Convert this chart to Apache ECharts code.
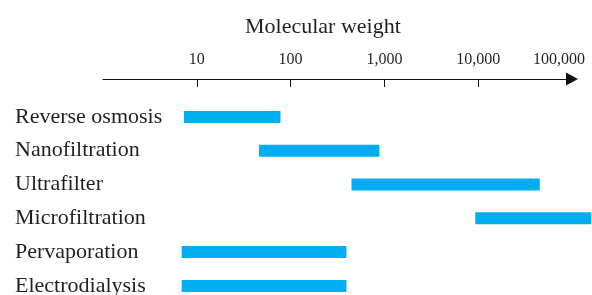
<!DOCTYPE html>
<html>
<head>
<meta charset="utf-8">
<script src="https://cdn.jsdelivr.net/npm/echarts@6/dist/echarts.min.js"></script>
<style>
  html, body { margin: 0; padding: 0; background: #fff; }
  #main { width: 592px; height: 295px; }
</style>
</head>
<body>
<div id="main"></div>
<script>
var myChart = echarts.init(document.getElementById('main'));

// 数据
var categories = ['Reverse osmosis', 'Nanofiltration', 'Ultrafilter', 'Microfiltration', 'Pervaporation', 'Electrodialysis'];
var lowValues = [7.3, 46, 446, 9300, 6.9, 6.9];
var highValues = [78, 885, 45300, 160000, 394, 394];
var tickValues = [10, 100, 1000, 10000];
var labelValues = [10, 100, 1000, 10000, 100000];
var rowValues = [0, 1, 2, 3, 4, 5];

var barData = categories.map(function (c, i) {
    return [i, lowValues[i], highValues[i]];
});

var font = 'Liberation Serif';
var textColor = '#231f20';

var option = {
    animation: false,
    title: {
        text: 'Molecular weight',
        left: 240,
        top: 11,
        textStyle: { fontFamily: font, fontSize: 22, fontWeight: 'normal', color: textColor }
    },
    grid: [
        { left: 103, right: 20, top: 78, height: 1, outerBoundsMode: 'none' },
        // 行距约 33.8px，第一行中心 y=117
        { left: 103, right: 20, top: 100, bottom: 0, outerBoundsMode: 'none' }
    ],
    xAxis: [
        {
            type: 'log',
            logBase: 10,
            gridIndex: 0,
            position: 'top',
            min: 1,
            max: 100000,
            axisLine: {
                show: true,
                symbol: ['none', 'triangle'],
                symbolSize: [13, 12],
                symbolOffset: [0, 0],
                lineStyle: { color: '#111', width: 1.2 }
            },
            axisTick: {
                show: true,
                inside: true,
                length: 8,
                customValues: tickValues,
                lineStyle: { color: '#111', width: 1 }
            },
            axisLabel: {
                margin: 10,
                customValues: labelValues,
                fontFamily: font,
                fontSize: 16,
                color: textColor,
                formatter: function (v) {
                    var s = Math.round(v).toLocaleString('en-US');
                    return v >= 100000 ? '{m|' + s + '}' : s;
                },
                rich: {
                    m: { fontFamily: font, fontSize: 16, color: textColor, padding: [0, 26, 0, 0] }
                }
            },
            splitLine: { show: false }
        },
        {
            type: 'log',
            logBase: 10,
            gridIndex: 1,
            min: 1,
            max: 100000,
            show: false
        }
    ],
    yAxis: [
        {
            type: 'value',
            gridIndex: 0,
            show: false
        },
        {
            type: 'value',
            gridIndex: 1,
            inverse: true,
            min: -0.5,
            max: 195 / 33.8 - 0.5,
            axisLine: { show: false },
            axisTick: { show: false },
            splitLine: { show: false },
            axisLabel: {
                align: 'left',
                margin: 88,
                customValues: rowValues,
                fontFamily: font,
                fontSize: 22,
                color: textColor,
                formatter: function (v) {
                    return categories[Math.round(v)];
                }
            }
        }
    ],
    series: [
        {
            type: 'custom',
            xAxisIndex: 1,
            yAxisIndex: 1,
            clip: false,
            data: barData,
            encode: { x: [1, 2], y: 0 },
            renderItem: function (params, api) {
                var start = api.coord([api.value(1), api.value(0)]);
                var end = api.coord([api.value(2), api.value(0)]);
                var h = 12;
                return {
                    type: 'rect',
                    shape: { x: start[0], y: start[1] - h / 2, width: end[0] - start[0], height: h },
                    style: { fill: '#00aeef' }
                };
            }
        }
    ]
};

myChart.setOption(option);
</script>
</body>
</html>
